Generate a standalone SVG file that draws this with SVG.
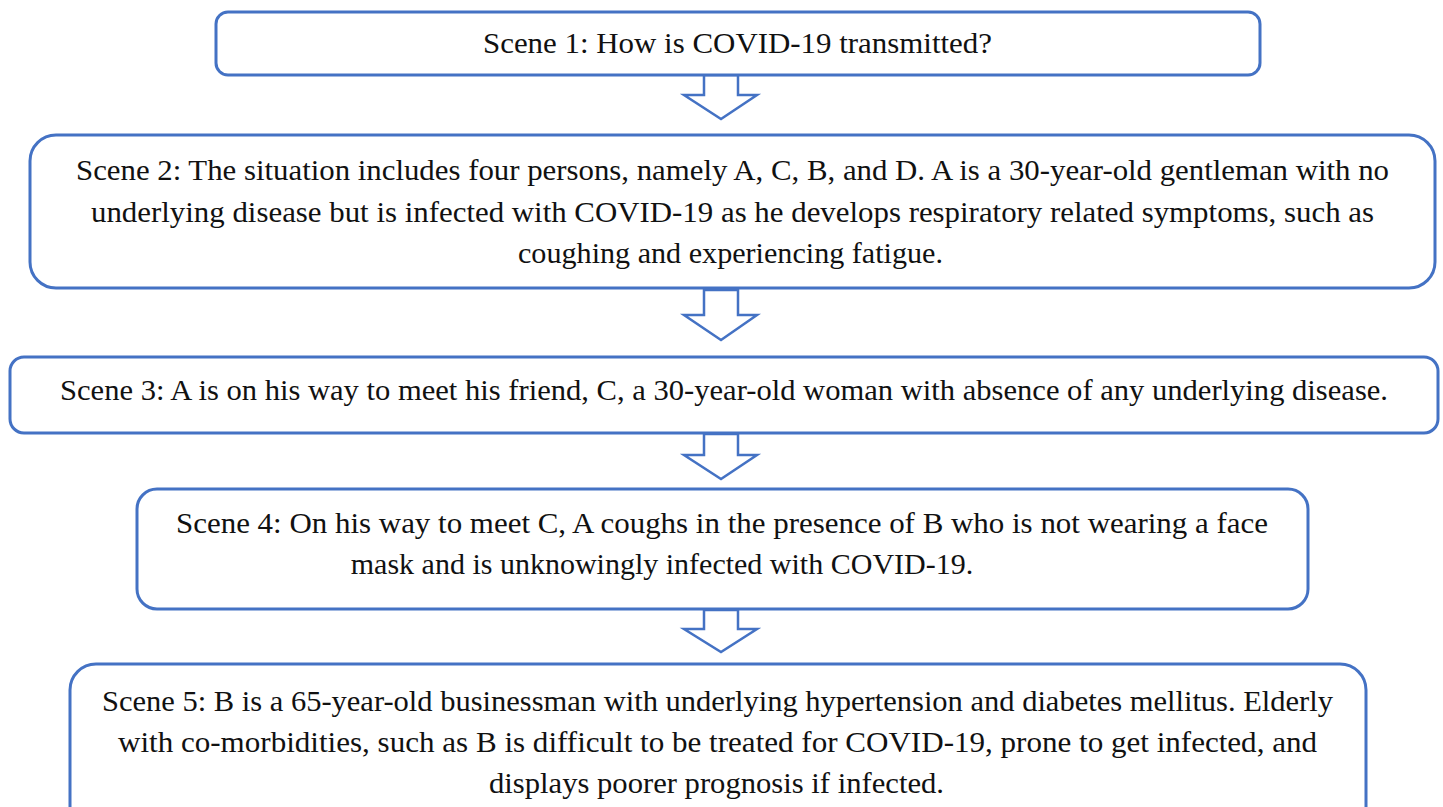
<svg xmlns="http://www.w3.org/2000/svg" width="1443" height="807" viewBox="0 0 1443 807">
<style>
.box{fill:#fff;stroke:#4472C4;stroke-width:3}
.arr{fill:#fff;stroke:#4472C4;stroke-width:2.5;stroke-linejoin:miter}
text{font-family:"Liberation Serif","DejaVu Serif",serif;font-size:30px;fill:#111}
</style>
<rect width="1443" height="807" fill="#fff"/>
<g id="connectors">
<path class="arr" d="M704,75 L738,75 L738,95 L757,95 L721,119 L684,95 L704,95 Z"/>
<path class="arr" d="M704,290 L738,290 L738,315 L757,315 L721,340 L684,315 L704,315 Z"/>
<path class="arr" d="M704,434 L738,434 L738,455 L757,455 L721,479 L684,455 L704,455 Z"/>
<path class="arr" d="M704,610 L738,610 L738,629 L757,629 L721,652 L684,629 L704,629 Z"/>
</g>
<g id="scene1">
<rect class="box" x="216" y="12" width="1044" height="63" rx="12"/>
<text x="483" y="53" textLength="509" lengthAdjust="spacingAndGlyphs">Scene 1: How is COVID-19 transmitted?</text>
</g>
<g id="scene2">
<rect class="box" x="30" y="135" width="1405" height="153" rx="26"/>
<text x="76" y="180" textLength="1313" lengthAdjust="spacingAndGlyphs">Scene 2: The situation includes four persons, namely A, C, B, and D. A is a 30-year-old gentleman with no</text>
<text x="91" y="222" textLength="1283" lengthAdjust="spacingAndGlyphs">underlying disease but is infected with COVID-19 as he develops respiratory related symptoms, such as</text>
<text x="518" y="263" textLength="425" lengthAdjust="spacingAndGlyphs">coughing and experiencing fatigue.</text>
</g>
<g id="scene3">
<rect class="box" x="10" y="357" width="1428" height="76" rx="14"/>
<text x="60" y="400" textLength="1328" lengthAdjust="spacingAndGlyphs">Scene 3: A is on his way to meet his friend, C, a 30-year-old woman with absence of any underlying disease.</text>
</g>
<g id="scene4">
<rect class="box" x="137" y="489" width="1171" height="120" rx="20"/>
<text x="176" y="533" textLength="1092" lengthAdjust="spacingAndGlyphs">Scene 4: On his way to meet C, A coughs in the presence of B who is not wearing a face</text>
<text x="662" y="574" text-anchor="middle">mask and is unknowingly infected with COVID-19.</text>
</g>
<g id="scene5">
<rect class="box" x="70" y="664" width="1296" height="170" rx="26"/>
<text x="102" y="711" textLength="1231" lengthAdjust="spacingAndGlyphs">Scene 5: B is a 65-year-old businessman with underlying hypertension and diabetes mellitus. Elderly</text>
<text x="118" y="752" textLength="1199" lengthAdjust="spacingAndGlyphs">with co-morbidities, such as B is difficult to be treated for COVID-19, prone to get infected, and</text>
<text x="489" y="793" textLength="455" lengthAdjust="spacingAndGlyphs">displays poorer prognosis if infected.</text>
</g>
</svg>
